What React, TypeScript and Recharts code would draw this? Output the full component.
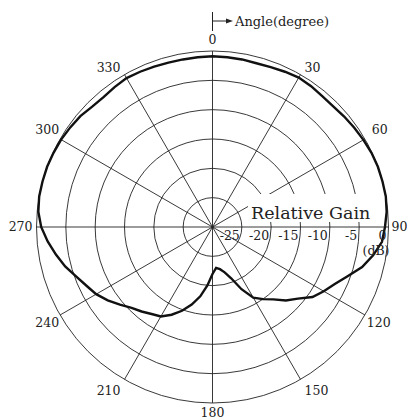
import React from 'react';
import { RadarChart, Radar, PolarGrid, PolarAngleAxis, PolarRadiusAxis, Customized } from 'recharts';

// bearing in degrees, clockwise from the top
const ANGLES = [
  0, 5, 10, 15, 20, 25, 30, 35, 40, 45, 50, 55,
  60, 65, 70, 75, 80, 85, 90, 95, 100, 105, 110, 115,
  120, 125, 130, 135, 140, 145, 150, 155, 160, 165, 170, 175,
  180, 185, 190, 195, 200, 205, 210, 215, 220, 225, 230, 235,
  240, 245, 250, 255, 260, 265, 270, 275, 280, 285, 290, 295,
  300, 305, 310, 315, 320, 325, 330, 335, 340, 345, 350, 355,
];

// relative gain (dB) at each bearing
const GAIN = [
  -0.9, -0.95, -1.0, -1.1, -1.0, -0.8, -0.6, -0.7, -0.9, -0.9, -0.7, -0.5,
  -0.3, -0.1, 0, 0, 0, -0.2, -0.6, -1.0, -2.2, -3.6, -5.5, -7.0,
  -8.1, -9.2, -11.0, -12.3, -13.9, -15.0, -16.1, -18.3, -20.7, -22.0, -22.7, -23.0,
  -22.0, -20.0, -18.0, -16.3, -14.8, -13.5, -12.4, -11.9, -11.2, -10.5, -9.4, -8.2,
  -7.1, -6.3, -5.3, -4.0, -2.9, -1.8, -0.8, -0.2, 0, 0, 0, -0.1,
  -0.2, -0.4, -0.6, -1.0, -1.1, -0.9, -0.7, -0.8, -0.9, -1.0, -1.0, -0.95,
];

const SPOKES = [0, 30, 60, 90, 120, 150, 180, 210, 240, 270, 300, 330];
const DB_TICKS = [-30, -25, -20, -15, -10, -5, 0];

const data = ANGLES.map((angle, i) => ({ angle, gain: GAIN[i] }));

const FONT = '"DejaVu Serif", serif';
const INK = '#222';

// small per-label nudges so the bearing numbers sit snug against the rim
const NUDGE: Record<number, [number, number]> = {
  0: [0, -3], 60: [0, -5], 90: [-5, 0], 120: [-5, 4], 150: [0, 4],
  180: [0, 2], 210: [0, 4], 240: [6, 4], 270: [4, 0], 300: [6, -5],
};

const AngleTick = (props: any) => {
  const { x, y, payload, textAnchor } = props;
  if (payload.value % 30 !== 0) return null;
  const [dx, dy] = NUDGE[payload.value] || [0, 0];
  return (
    <text x={x + dx} y={y + dy} dy="0.35em" textAnchor={textAnchor} fontFamily={FONT} fontSize={12.5} fill={INK}>
      {payload.value}
    </text>
  );
};

const DbTick = (props: any) => {
  const { x, y, payload } = props;
  if (payload.value === -30) return null;
  return (
    <g>
      <text x={x - 2} y={y + 13} textAnchor="end" fontFamily={FONT} fontSize={12.5} fill={INK}>
        {payload.value}
      </text>
      {payload.value === 0 && (
        <text x={x + 1} y={y + 28} textAnchor="end" fontFamily={FONT} fontSize={12.5} fill={INK}>
          (dB)
        </text>
      )}
    </g>
  );
};

const Annotations = () => (
  <g fontFamily={FONT} fill={INK}>
    <line x1={212.5} y1={12} x2={212.5} y2={31} stroke={INK} strokeWidth={1} />
    <line x1={212.5} y1={21} x2={228} y2={21} stroke={INK} strokeWidth={1} />
    <polygon points="226,18.5 233,21 226,23.5" fill={INK} />
    <text x={235} y={26} fontSize={13}>Angle(degree)</text>
    <rect x={248} y={194} width={124} height={28} fill="#fff" />
    <text x={251} y={219} fontSize={17.5}>Relative Gain</text>
  </g>
);

export default function App() {
  return (
    <div style={{ position: 'absolute', left: 0, top: 0, background: '#fff' }}>
      <RadarChart
        width={407}
        height={420}
        data={data}
        cx={212.5}
        cy={227}
        outerRadius={176}
        startAngle={90}
        endAngle={-270}
        margin={{ top: 0, right: 0, bottom: 0, left: 0 }}
      >
        <PolarGrid
          gridType="circle"
          stroke={INK}
          strokeWidth={0.9}
          strokeOpacity={1}
          polarAngles={SPOKES.map((a) => 90 - a)}
        />
        <PolarAngleAxis dataKey="angle" type="category" tick={<AngleTick />} tickLine={false} axisLine={false} />
        <PolarRadiusAxis
          angle={0}
          type="number"
          domain={[-30, 0]}
          ticks={DB_TICKS}
          tickCount={7}
          tick={<DbTick />}
          axisLine={false}
          tickLine={false}
        />
        <Customized component={<Annotations />} />
        <Radar
          dataKey="gain"
          stroke="#111"
          strokeWidth={2.4}
          fill="none"
          fillOpacity={0}
          dot={false}
          isAnimationActive={false}
        />
      </RadarChart>
    </div>
  );
}
